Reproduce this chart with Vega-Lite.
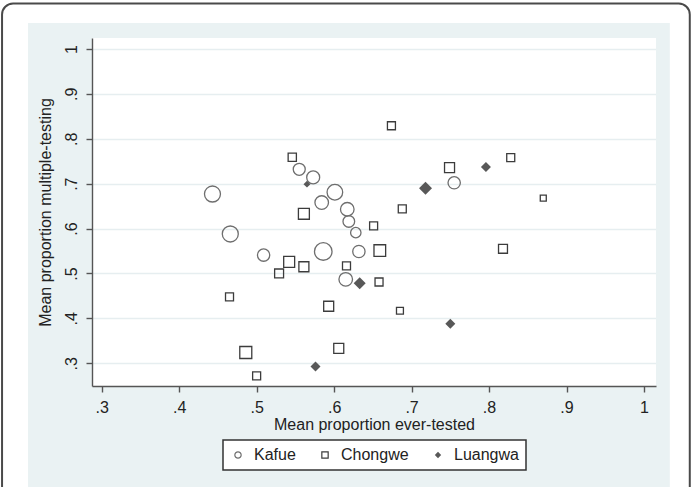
{
  "$schema": "https://vega.github.io/schema/vega-lite/v6.json",
  "autosize": {"type": "none"},
  "padding": {"left": 92, "top": 38, "right": 37, "bottom": 101},
  "width": 564,
  "height": 348,
  "background": "white",
  "config": {
    "view": {"stroke": null, "fill": "white"},
    "font": "Liberation Sans",
    "axis": {
      "labelFontSize": 16,
      "titleFontSize": 16,
      "titleFontWeight": "normal",
      "labelColor": "#222222",
      "titleColor": "#222222",
      "domainColor": "#555555",
      "tickColor": "#555555",
      "domainWidth": 1.4,
      "tickWidth": 1.4,
      "tickSize": 6,
      "labelPadding": 7,
      "gridColor": "#e6eef0",
      "gridWidth": 1.5
    },
    "legend": {
      "strokeColor": "#333333",
      "strokeWidth": 1.5,
      "fillColor": "white",
      "layout": {"bottom": {"anchor": "middle"}}
    }
  },
  "resolve": {"axis": {"y": "independent"}},
  "datasets": {
    "districts": [
      {"ever_tested": 0.443, "multiple_testing": 0.677, "district": "Kafue", "weight": 64},
      {"ever_tested": 0.466, "multiple_testing": 0.588, "district": "Kafue", "weight": 64},
      {"ever_tested": 0.555, "multiple_testing": 0.732, "district": "Kafue", "weight": 36},
      {"ever_tested": 0.573, "multiple_testing": 0.714, "district": "Kafue", "weight": 42},
      {"ever_tested": 0.601, "multiple_testing": 0.681, "district": "Kafue", "weight": 61},
      {"ever_tested": 0.584, "multiple_testing": 0.658, "district": "Kafue", "weight": 46},
      {"ever_tested": 0.617, "multiple_testing": 0.643, "district": "Kafue", "weight": 46},
      {"ever_tested": 0.619, "multiple_testing": 0.616, "district": "Kafue", "weight": 34},
      {"ever_tested": 0.628, "multiple_testing": 0.591, "district": "Kafue", "weight": 27},
      {"ever_tested": 0.509, "multiple_testing": 0.541, "district": "Kafue", "weight": 38},
      {"ever_tested": 0.586, "multiple_testing": 0.549, "district": "Kafue", "weight": 77},
      {"ever_tested": 0.632, "multiple_testing": 0.549, "district": "Kafue", "weight": 38},
      {"ever_tested": 0.615, "multiple_testing": 0.487, "district": "Kafue", "weight": 46},
      {"ever_tested": 0.755, "multiple_testing": 0.702, "district": "Kafue", "weight": 38},
      {"ever_tested": 0.546, "multiple_testing": 0.759, "district": "Chongwe", "weight": 17},
      {"ever_tested": 0.561, "multiple_testing": 0.633, "district": "Chongwe", "weight": 30},
      {"ever_tested": 0.651, "multiple_testing": 0.606, "district": "Chongwe", "weight": 16},
      {"ever_tested": 0.659, "multiple_testing": 0.551, "district": "Chongwe", "weight": 34},
      {"ever_tested": 0.542, "multiple_testing": 0.526, "district": "Chongwe", "weight": 30},
      {"ever_tested": 0.561, "multiple_testing": 0.515, "district": "Chongwe", "weight": 25},
      {"ever_tested": 0.529, "multiple_testing": 0.500, "district": "Chongwe", "weight": 20},
      {"ever_tested": 0.616, "multiple_testing": 0.517, "district": "Chongwe", "weight": 16},
      {"ever_tested": 0.658, "multiple_testing": 0.481, "district": "Chongwe", "weight": 16},
      {"ever_tested": 0.465, "multiple_testing": 0.448, "district": "Chongwe", "weight": 16},
      {"ever_tested": 0.593, "multiple_testing": 0.427, "district": "Chongwe", "weight": 25},
      {"ever_tested": 0.685, "multiple_testing": 0.417, "district": "Chongwe", "weight": 12},
      {"ever_tested": 0.486, "multiple_testing": 0.324, "district": "Chongwe", "weight": 36},
      {"ever_tested": 0.606, "multiple_testing": 0.333, "district": "Chongwe", "weight": 25},
      {"ever_tested": 0.500, "multiple_testing": 0.272, "district": "Chongwe", "weight": 16},
      {"ever_tested": 0.674, "multiple_testing": 0.829, "district": "Chongwe", "weight": 16},
      {"ever_tested": 0.749, "multiple_testing": 0.736, "district": "Chongwe", "weight": 25},
      {"ever_tested": 0.828, "multiple_testing": 0.758, "district": "Chongwe", "weight": 16},
      {"ever_tested": 0.688, "multiple_testing": 0.644, "district": "Chongwe", "weight": 16},
      {"ever_tested": 0.870, "multiple_testing": 0.668, "district": "Chongwe", "weight": 9},
      {"ever_tested": 0.818, "multiple_testing": 0.555, "district": "Chongwe", "weight": 20},
      {"ever_tested": 0.565, "multiple_testing": 0.699, "district": "Luangwa", "weight": 12},
      {"ever_tested": 0.633, "multiple_testing": 0.478, "district": "Luangwa", "weight": 36},
      {"ever_tested": 0.576, "multiple_testing": 0.293, "district": "Luangwa", "weight": 25},
      {"ever_tested": 0.718, "multiple_testing": 0.690, "district": "Luangwa", "weight": 42},
      {"ever_tested": 0.796, "multiple_testing": 0.737, "district": "Luangwa", "weight": 25},
      {"ever_tested": 0.750, "multiple_testing": 0.388, "district": "Luangwa", "weight": 25}
    ]
  },
  "layer": [
    {
      "description": "Outer graph frame with rounded corners",
      "data": {"values": [{}]},
      "mark": {"type": "rect", "clip": false, "fillOpacity": 0, "stroke": "#4a4a4a", "strokeWidth": 2, "cornerRadius": 11},
      "encoding": {
        "x": {"datum": 0.1714, "type": "quantitative"},
        "x2": {"datum": 1.0591},
        "y": {"datum": 1.1013, "type": "quantitative", "axis": null},
        "y2": {"datum": -0.1}
      }
    },
    {
      "description": "Graph region, left band",
      "data": {"values": [{}]},
      "mark": {"type": "rect", "clip": false, "fill": "#eaf2f3"},
      "encoding": {
        "x": {"datum": 0.2049, "type": "quantitative"},
        "x2": {"datum": 0.2875},
        "y": {"datum": 1.0579, "type": "quantitative", "axis": null},
        "y2": {"datum": 0.0}
      }
    },
    {
      "description": "Graph region, right band",
      "data": {"values": [{}]},
      "mark": {"type": "rect", "clip": false, "fill": "#eaf2f3"},
      "encoding": {
        "x": {"datum": 1.0155, "type": "quantitative"},
        "x2": {"datum": 1.0333},
        "y": {"datum": 1.0579, "type": "quantitative", "axis": null},
        "y2": {"datum": 0.0}
      }
    },
    {
      "description": "Graph region, bottom band",
      "data": {"values": [{}]},
      "mark": {"type": "rect", "clip": false, "fill": "#eaf2f3"},
      "encoding": {
        "x": {"datum": 0.2875, "type": "quantitative"},
        "x2": {"datum": 1.0155},
        "y": {"datum": 0.2494, "type": "quantitative", "axis": null},
        "y2": {"datum": 0.0}
      }
    },
    {
      "description": "Graph region, top band; carries the horizontal grid",
      "data": {"values": [{}]},
      "mark": {"type": "rect", "clip": false, "fill": "#eaf2f3"},
      "encoding": {
        "x": {"datum": 0.2875, "type": "quantitative"},
        "x2": {"datum": 1.0155},
        "y": {
          "datum": 1.0245,
          "type": "quantitative",
          "axis": {
            "orient": "right",
            "zindex": 0,
            "grid": true,
            "labels": false,
            "ticks": false,
            "domain": false,
            "title": null,
            "values": [0.3, 0.4, 0.5, 0.6, 0.7, 0.8, 0.9, 1]
          }
        },
        "y2": {"datum": 1.0579}
      }
    },
    {
      "data": {"name": "districts"},
      "mark": {"type": "point", "filled": true, "opacity": 1, "strokeWidth": 1.3},
      "encoding": {
        "x": {
          "field": "ever_tested",
          "type": "quantitative",
          "title": "Mean proportion ever-tested",
          "scale": {"domain": [0.2875, 1.0155], "nice": false, "zero": false},
          "axis": {
            "zindex": 1,
            "values": [0.3, 0.4, 0.5, 0.6, 0.7, 0.8, 0.9, 1],
            "labelExpr": "datum.value >= 1 ? '1' : substring(format(datum.value, '.1f'), 1)",
            "grid": false,
            "titlePadding": 1
          }
        },
        "y": {
          "field": "multiple_testing",
          "type": "quantitative",
          "title": "Mean proportion multiple-testing",
          "scale": {"domain": [0.2494, 1.0245], "nice": false, "zero": false},
          "axis": {
            "orient": "left",
            "zindex": 1,
            "values": [0.3, 0.4, 0.5, 0.6, 0.7, 0.8, 0.9, 1],
            "labelExpr": "datum.value >= 1 ? '1' : substring(format(datum.value, '.1f'), 1)",
            "labelAngle": 270,
            "grid": false,
            "titlePadding": 10
          }
        },
        "shape": {
          "field": "district",
          "type": "nominal",
          "title": null,
          "scale": {"domain": ["Kafue", "Chongwe", "Luangwa"], "range": ["circle", "square", "diamond"]},
          "legend": {
            "orient": "bottom",
            "direction": "horizontal",
            "gridAlign": "each",
            "padding": 7,
            "offset": 8,
            "columnPadding": 21,
            "labelOffset": 8,
            "labelFontSize": 16,
            "labelColor": "#222222",
            "symbolSize": 40,
            "symbolStrokeWidth": 1.2
          }
        },
        "fill": {
          "field": "district",
          "type": "nominal",
          "title": null,
          "scale": {"domain": ["Kafue", "Chongwe", "Luangwa"], "range": ["transparent", "transparent", "#585858"]}
        },
        "stroke": {
          "field": "district",
          "type": "nominal",
          "title": null,
          "scale": {"domain": ["Kafue", "Chongwe", "Luangwa"], "range": ["#6e6e6e", "#3c3c3c", "transparent"]}
        },
        "size": {
          "field": "weight",
          "type": "quantitative",
          "scale": {"type": "linear", "domain": [0, 100], "range": [0, 400]},
          "legend": null
        }
      }
    }
  ]
}
